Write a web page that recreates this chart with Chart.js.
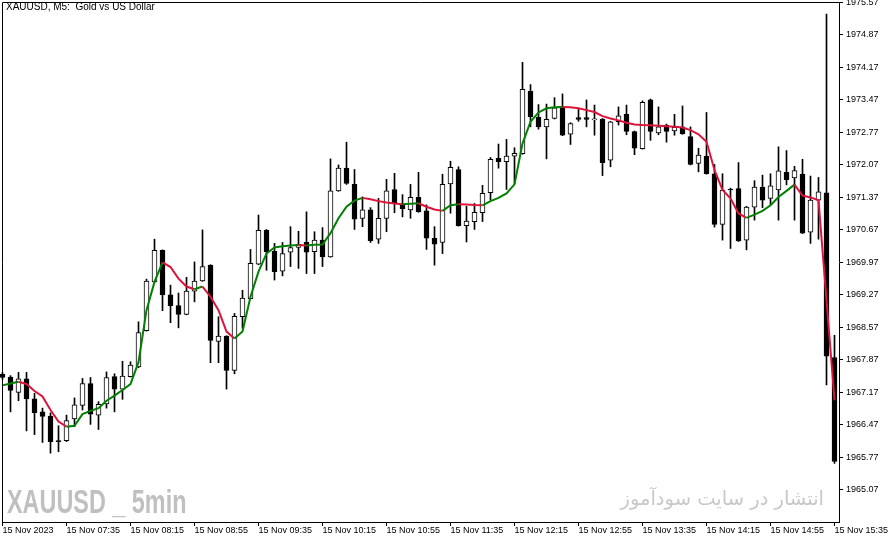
<!DOCTYPE html>
<html>
<head>
<meta charset="utf-8">
<title>XAUUSD M5</title>
<script src="https://cdn.jsdelivr.net/npm/chart.js@4.4.1/dist/chart.umd.min.js"></script>
<style>
  html, body { margin: 0; padding: 0; background: #fff; }
  #wrap { position: relative; width: 892px; height: 543px; overflow: hidden; }
  #chart { position: absolute; left: 0; top: -3px; }
  .title { position: absolute; left: 6px; top: 1px; font: 10px/12px "Liberation Sans", sans-serif; color: #000; white-space: pre; }
  .wm-en { position: absolute; left: 7px; top: 486px; font: bold 32.5px/1 "Liberation Sans", sans-serif; color: #c0c0c0; transform: scaleX(0.72); transform-origin: 0 0; white-space: pre; }
  .wm-fa { position: absolute; right: 68px; top: 489px; font: 19.5px/1 "DejaVu Sans", sans-serif; color: #c8c8c8; direction: rtl; white-space: nowrap; }
</style>
</head>
<body>
<div id="wrap">
  <canvas id="chart" width="892" height="546"></canvas>
  <div class="title">XAUUSD, M5:  Gold vs US Dollar</div>
  <div class="wm-en">XAUUSD _ 5min</div>
  <div class="wm-fa">انتشار در سایت سودآموز</div>
</div>
<script>
// time axis labels and the bar index each one sits on
const xLabels = ['15 Nov 2023', '15 Nov 07:35', '15 Nov 08:15', '15 Nov 08:55', '15 Nov 09:35',
    '15 Nov 10:15', '15 Nov 10:55', '15 Nov 11:35', '15 Nov 12:15', '15 Nov 12:55',
    '15 Nov 13:35', '15 Nov 14:15', '15 Nov 14:55', '15 Nov 15:35'];
const xLabelBars = [0, 8, 16, 24, 32, 40, 48, 56, 64, 72, 80, 88, 96, 104];

const yTicks = [1965.07, 1965.77, 1966.47, 1967.17, 1967.87, 1968.57, 1969.27, 1969.97,
    1970.67, 1971.37, 1972.07, 1972.77, 1973.47, 1974.17, 1974.87, 1975.57];

// M5 candles, 06:55 .. 15:35
const opens = [
    1967.56, 1967.50, 1967.17, 1967.46, 1967.03, 1966.75, 1966.66, 1966.12, 1966.13, 1966.60,
    1966.89, 1967.36, 1966.68, 1966.92, 1967.51, 1967.24, 1967.51, 1967.72, 1968.50, 1969.55,
    1970.23, 1969.27, 1969.04, 1968.85, 1969.35, 1969.57, 1969.91, 1968.27, 1968.38, 1967.64,
    1968.80, 1969.19, 1969.93, 1970.66, 1970.21, 1969.78, 1970.19, 1970.29, 1970.40, 1970.20,
    1970.45, 1970.09, 1971.51, 1972.00, 1971.65, 1970.92, 1971.10, 1970.47, 1970.92, 1971.54,
    1971.23, 1971.10, 1971.37, 1971.08, 1970.49, 1970.40, 1971.66, 1971.97, 1970.76, 1970.85,
    1971.04, 1971.47, 1972.21, 1972.14, 1972.26, 1972.31, 1973.66, 1973.10, 1972.89, 1973.07,
    1973.32, 1972.73, 1973.09, 1973.09, 1973.04, 1973.06, 1972.17, 1973.00, 1973.16, 1972.79,
    1972.42, 1973.47, 1972.76, 1972.93, 1972.80, 1972.89, 1972.68, 1972.10, 1972.26, 1971.88,
    1970.79, 1971.55, 1971.56, 1970.45, 1971.16, 1971.59, 1971.35, 1971.53, 1971.91, 1971.79,
    1971.87, 1970.62, 1971.31, 1971.47, 1967.92
];
const highs = [
    1967.60, 1967.53, 1967.60, 1967.60, 1967.15, 1966.83, 1966.73, 1966.45, 1966.68, 1967.05,
    1967.47, 1967.49, 1966.97, 1967.61, 1967.57, 1967.84, 1967.83, 1968.69, 1969.61, 1970.47,
    1970.24, 1969.48, 1969.31, 1969.65, 1969.98, 1970.67, 1969.92, 1968.80, 1968.39, 1968.87,
    1969.37, 1970.25, 1970.99, 1970.68, 1970.38, 1970.40, 1970.74, 1970.64, 1971.06, 1970.63,
    1970.72, 1972.20, 1972.07, 1972.56, 1971.97, 1971.38, 1971.15, 1971.35, 1971.76, 1971.89,
    1971.43, 1971.65, 1971.91, 1971.21, 1970.74, 1971.87, 1972.15, 1972.03, 1971.18, 1971.24,
    1971.63, 1972.23, 1972.52, 1972.62, 1972.44, 1974.28, 1973.80, 1973.37, 1973.38, 1973.52,
    1973.60, 1972.98, 1973.29, 1973.47, 1973.36, 1973.07, 1973.01, 1973.32, 1973.36, 1972.80,
    1973.45, 1973.49, 1973.32, 1972.95, 1973.16, 1973.34, 1972.89, 1972.43, 1973.20, 1972.08,
    1971.88, 1971.57, 1972.12, 1971.18, 1971.73, 1971.85, 1971.88, 1972.46, 1972.38, 1972.04,
    1972.19, 1971.83, 1971.80, 1975.32, 1968.40
];
const lows = [
    1967.45, 1966.75, 1966.99, 1966.34, 1966.26, 1966.09, 1965.86, 1965.89, 1966.11, 1966.43,
    1966.79, 1966.48, 1966.37, 1966.83, 1966.75, 1967.02, 1967.50, 1967.70, 1968.49, 1969.54,
    1968.93, 1968.67, 1968.56, 1968.84, 1969.12, 1969.56, 1967.81, 1967.81, 1967.24, 1967.57,
    1968.55, 1969.18, 1969.92, 1969.80, 1969.59, 1969.68, 1969.88, 1969.84, 1969.73, 1969.73,
    1969.88, 1970.08, 1971.50, 1971.65, 1970.68, 1970.74, 1970.40, 1970.38, 1970.63, 1971.04,
    1970.95, 1970.92, 1971.05, 1970.25, 1969.91, 1970.16, 1971.03, 1970.75, 1970.41, 1970.68,
    1970.85, 1971.31, 1972.00, 1971.54, 1971.67, 1972.30, 1972.89, 1972.84, 1972.20, 1973.06,
    1972.70, 1972.51, 1973.01, 1972.89, 1972.71, 1971.84, 1972.03, 1972.93, 1972.72, 1972.29,
    1972.41, 1972.60, 1972.72, 1972.56, 1972.71, 1972.73, 1972.07, 1971.92, 1971.87, 1970.73,
    1970.45, 1970.27, 1970.42, 1970.24, 1970.88, 1971.15, 1971.20, 1970.88, 1971.64, 1970.88,
    1970.59, 1970.38, 1970.47, 1967.33, 1965.64
];
const closes = [
    1967.49, 1967.21, 1967.46, 1967.03, 1966.73, 1966.65, 1966.11, 1966.11, 1966.56, 1966.90,
    1967.36, 1966.70, 1966.91, 1967.49, 1967.24, 1967.52, 1967.76, 1968.46, 1969.57, 1970.23,
    1969.27, 1969.04, 1968.85, 1969.35, 1969.57, 1969.88, 1968.29, 1968.38, 1967.64, 1968.81,
    1969.20, 1969.95, 1970.66, 1970.20, 1969.77, 1970.16, 1970.29, 1970.36, 1970.19, 1970.45,
    1970.09, 1971.51, 1972.00, 1971.67, 1970.90, 1971.10, 1970.44, 1970.92, 1971.51, 1971.24,
    1971.13, 1971.37, 1971.06, 1970.49, 1970.36, 1971.65, 1972.02, 1970.76, 1970.86, 1971.05,
    1971.46, 1972.19, 1972.14, 1972.26, 1972.32, 1973.70, 1973.11, 1972.89, 1973.05, 1973.30,
    1972.71, 1972.96, 1973.05, 1973.05, 1973.04, 1972.12, 1973.00, 1973.13, 1972.79, 1972.43,
    1973.42, 1972.79, 1972.89, 1972.79, 1972.88, 1972.74, 1972.08, 1972.28, 1971.88, 1970.79,
    1971.53, 1971.53, 1970.43, 1971.16, 1971.59, 1971.31, 1971.62, 1971.94, 1971.75, 1971.95,
    1970.60, 1971.31, 1971.49, 1967.95, 1965.68
];
// moving average drawn over the candles
const maValues = [
    1967.32, 1967.36, 1967.40, 1967.35, 1967.20, 1967.08, 1966.79, 1966.54, 1966.43, 1966.45,
    1966.70, 1966.77, 1966.83, 1966.99, 1967.10, 1967.22, 1967.35, 1967.82, 1968.94, 1969.55,
    1969.97, 1969.87, 1969.62, 1969.45, 1969.39, 1969.45, 1969.23, 1968.94, 1968.48, 1968.33,
    1968.48, 1969.23, 1969.77, 1970.16, 1970.29, 1970.32, 1970.335, 1970.345, 1970.335, 1970.35,
    1970.355, 1970.60, 1970.92, 1971.17, 1971.30, 1971.36, 1971.33, 1971.29, 1971.26, 1971.24,
    1971.225, 1971.235, 1971.245, 1971.17, 1971.11, 1971.08, 1971.20, 1971.225, 1971.215, 1971.205,
    1971.20, 1971.29, 1971.36, 1971.455, 1971.65, 1972.53, 1973.00, 1973.20, 1973.29, 1973.31,
    1973.32, 1973.31, 1973.29, 1973.25, 1973.21, 1973.12, 1973.07, 1973.03, 1972.98, 1972.94,
    1972.93, 1972.925, 1972.915, 1972.905, 1972.89, 1972.875, 1972.82, 1972.73, 1972.57, 1971.96,
    1971.53, 1971.35, 1971.025, 1970.93, 1971.00, 1971.08, 1971.20, 1971.38, 1971.51, 1971.645,
    1971.41, 1971.37, 1971.31, 1969.16, 1967.00
];

const UP = '#008000';
const DOWN = '#dc143c';
const tickFont = { family: 'Liberation Sans', size: 9, lineHeight: 1 };

// left and top edges of the plot frame (bottom/right come from the axes)
const framePlugin = {
    id: 'frame',
    afterDatasetsDraw(chart) {
        const { ctx, chartArea } = chart;
        const l = Math.round(chartArea.left) + 0.5;
        const t = Math.round(chartArea.top) + 0.5;
        ctx.save();
        ctx.strokeStyle = '#000';
        ctx.lineWidth = 1;
        ctx.beginPath();
        ctx.moveTo(l, chartArea.bottom);
        ctx.lineTo(l, t);
        ctx.lineTo(chartArea.right, t);
        ctx.stroke();
        ctx.restore();
    }
};

new Chart(document.getElementById('chart'), {
    type: 'bar',
    data: {
        datasets: [
            {
                type: 'line',
                label: 'MA',
                data: maValues.map((v, i) => ({ x: i, y: v })),
                borderColor: UP,
                borderWidth: 2,
                pointRadius: 0,
                tension: 0,
                order: 0,
                segment: {
                    borderColor: ctx => ctx.p1.parsed.y < ctx.p0.parsed.y ? DOWN : UP
                }
            },
            {
                label: 'Body',
                data: opens.map((o, i) => ({ x: i, y: [o, closes[i]] })),
                backgroundColor: opens.map((o, i) => closes[i] >= o ? '#ffffff' : '#000000'),
                borderColor: '#000',
                borderWidth: 1,
                borderSkipped: false,
                barThickness: 5,
                minBarLength: 1,
                grouped: false,
                clip: false,
                order: 1
            },
            {
                label: 'Wick',
                data: highs.map((h, i) => ({ x: i, y: [lows[i], h] })),
                backgroundColor: '#000',
                borderWidth: 0,
                barThickness: 1,
                grouped: false,
                clip: false,
                order: 2
            }
        ]
    },
    options: {
        responsive: false,
        animation: false,
        events: [],
        layout: { padding: { left: 2, top: 5, right: 0, bottom: 0 } },
        plugins: {
            legend: { display: false },
            tooltip: { enabled: false }
        },
        scales: {
            x: {
                type: 'linear',
                min: -0.0625,
                max: 104.5625,
                offset: false,
                grid: { display: true, drawOnChartArea: false, tickLength: 4, color: '#000', offset: false },
                border: { display: true, color: '#000' },
                ticks: {
                    autoSkip: false,
                    maxRotation: 0,
                    align: 'start',
                    padding: 0,
                    color: '#000',
                    font: tickFont,
                    callback: (value, index) => xLabels[index]
                },
                afterBuildTicks: scale => { scale.ticks = xLabelBars.map(v => ({ value: v })); },
                afterFit: scale => { scale.height = 21; }
            },
            y: {
                position: 'right',
                min: 1964.377,
                max: 1975.58,
                grid: { display: true, drawOnChartArea: false, tickLength: 4, color: '#000' },
                border: { display: true, color: '#000' },
                ticks: {
                    padding: 3,
                    color: '#000',
                    font: { family: 'Liberation Sans', size: 9, lineHeight: 0.4 },
                    callback: value => value.toFixed(2)
                },
                afterBuildTicks: scale => { scale.ticks = yTicks.map(v => ({ value: v })); },
                afterFit: scale => { scale.width = 53; }
            }
        }
    },
    plugins: [framePlugin]
});
</script>
</body>
</html>
